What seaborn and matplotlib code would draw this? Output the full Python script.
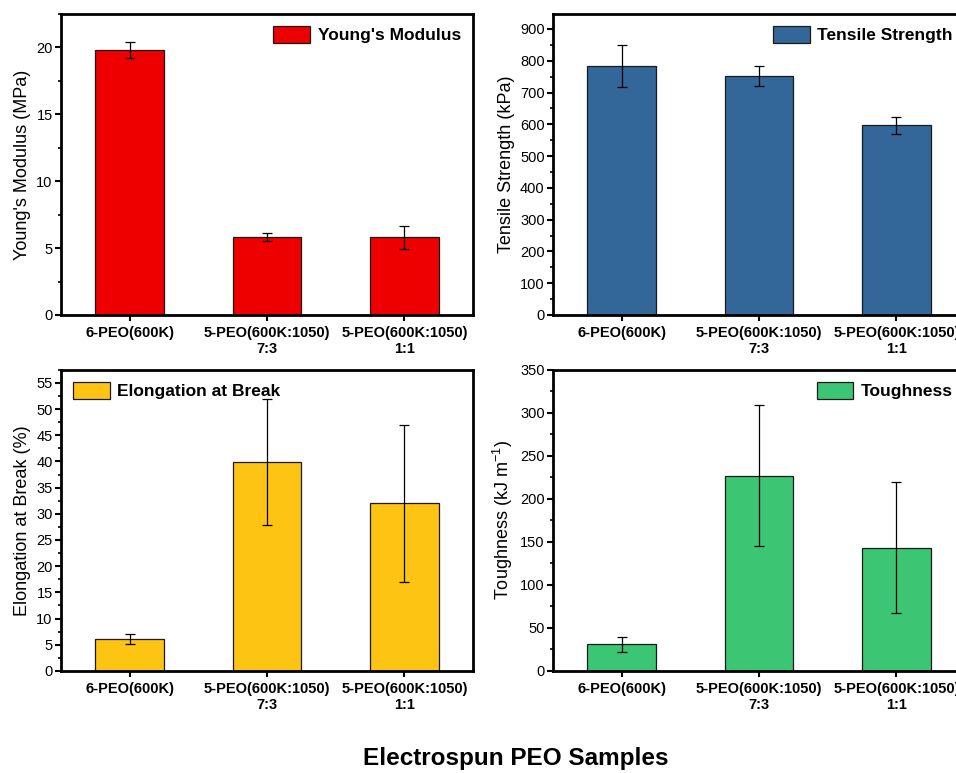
import matplotlib
matplotlib.use("Agg")
import matplotlib.pyplot as plt
from matplotlib.ticker import MultipleLocator
import seaborn as sns
import pandas as pd
import numpy as np

samples = ["6-PEO(600K)", "5-PEO(600K:1050)\n7:3", "5-PEO(600K:1050)\n1:1"]

modulus = [19.8, 5.85, 5.8]
modulus_err = [0.6, 0.3, 0.85]

tensile = [783, 752, 597]
tensile_err = [67, 32, 27]

elongation = [6.1, 39.9, 32.0]
elongation_err = [1.0, 12.1, 15.0]

toughness = [31, 227, 143]
toughness_err = [9, 82, 76]

sns.set_theme(style="ticks")
plt.rcParams["font.family"] = ["Liberation Sans", "DejaVu Sans"]
plt.rcParams["text.color"] = "black"
plt.rcParams["axes.labelcolor"] = "black"
plt.rcParams["xtick.color"] = "black"
plt.rcParams["ytick.color"] = "black"
plt.rcParams["mathtext.default"] = "regular"

fig = plt.figure(figsize=(9.56, 7.73), dpi=100)

panels = [
    # values, errors, color, legend label, y label, ylim, major, minor, legend loc, axes rect
    (modulus, modulus_err, "#ee0000", "Young's Modulus", "Young's Modulus (MPa)",
     22.5, 5, 2.5, "upper right", [0.0638, 0.5925, 0.431, 0.3894]),
    (tensile, tensile_err, "#336699", "Tensile Strength", "Tensile Strength (kPa)",
     947, 100, 50, "upper right", [0.5785, 0.5925, 0.431, 0.3894]),
    (elongation, elongation_err, "#fdc414", "Elongation at Break", "Elongation at Break (%)",
     57.5, 5, 2.5, "upper left", [0.0638, 0.132, 0.431, 0.3897]),
    (toughness, toughness_err, "#3cc673", "Toughness", "Toughness (kJ m$^{-1}$)",
     350, 50, 25, "upper right", [0.5785, 0.132, 0.431, 0.3897]),
]

for vals, errs, color, lab, ylab, ytop, major, minor, loc, rect in panels:
    ax = fig.add_axes(rect)
    df = pd.DataFrame({"sample": samples, "value": vals})
    sns.barplot(data=df, x="sample", y="value", color=color, saturation=1,
                width=0.5, edgecolor="#1a1a1a", linewidth=0.9, label=lab, ax=ax)
    ax.errorbar(np.arange(len(samples)), vals, yerr=errs, fmt="none",
                ecolor="black", elinewidth=0.9, capsize=3.5, capthick=0.9)
    ax.set_xlim(-0.5, 2.5)
    ax.set_ylim(0, ytop)
    ax.yaxis.set_major_locator(MultipleLocator(major))
    ax.yaxis.set_minor_locator(MultipleLocator(minor))
    ax.set_xlabel("")
    ax.set_ylabel(ylab, fontsize=13, labelpad=4)
    for lbl in ax.get_xticklabels():
        lbl.set_fontweight("bold")
        lbl.set_fontsize(10.5)
        lbl.set_linespacing(1.2)
    ax.tick_params(axis="y", which="major", labelsize=10.5, length=4, width=1.5,
                   direction="out", pad=2)
    ax.tick_params(axis="y", which="minor", length=2, width=1.2, direction="out")
    ax.tick_params(axis="x", which="major", length=4, width=1.5, direction="out", pad=4)
    for s in ax.spines.values():
        s.set_visible(True)
        s.set_linewidth(2)
        s.set_color("black")
    leg = ax.legend(loc=loc, frameon=False, prop={"weight": "bold", "size": 12.5},
                    handlelength=2.1, handleheight=1.1, handletextpad=0.45,
                    borderaxespad=0.3)
    for h in leg.legend_handles:
        h.set_edgecolor("#1a1a1a")

fig.text(0.54, 0.004, "Electrospun PEO Samples", ha="center", va="bottom",
         fontsize=17.5, fontweight="bold")

fig.savefig("out.png", dpi=100)
